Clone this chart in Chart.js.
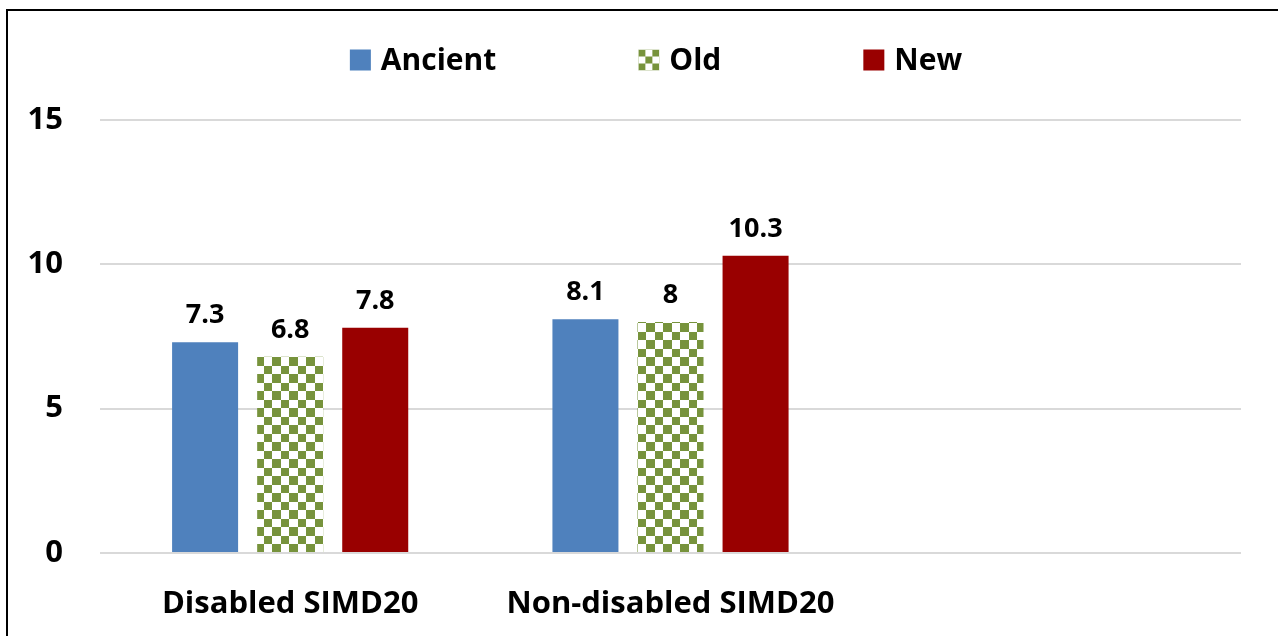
<!DOCTYPE html>
<html><head><meta charset="utf-8">
<script src="https://cdn.jsdelivr.net/npm/chart.js@4"></script>
<style>html,body{margin:0;padding:0;background:#fff;overflow:hidden;} #wrap{width:1278px;height:636px;position:relative;}</style>
</head><body><div id="wrap"><canvas id="c" width="1278" height="636"></canvas></div>
<script>
const categories = ['Disabled SIMD20', 'Non-disabled SIMD20', ''];
const seriesNames = ['Ancient', 'Old', 'New'];
const ancientValues = [7.3, 8.1, null];
const oldValues = [6.8, 8, null];
const newValues = [7.8, 10.3, null];
const yTicks = [0, 5, 10, 15];

const FONT = '"Open Sans"';
const BLUE = '#4F81BD', GREEN = '#77933C', RED = '#990000';

function checker(cell, color) {
  const t = document.createElement('canvas');
  t.width = cell * 2; t.height = cell * 2;
  const g = t.getContext('2d');
  g.fillStyle = '#fff'; g.fillRect(0, 0, t.width, t.height);
  g.fillStyle = color;
  g.fillRect(0, 0, cell, cell);
  g.fillRect(cell, cell, cell, cell);
  return g.createPattern(t, 'repeat');
}
const ctx0 = document.getElementById('c').getContext('2d');
const barPattern = (function(){
  const t = document.createElement('canvas'); t.width = 17; t.height = 17;
  const g = t.getContext('2d');
  g.fillStyle = '#fff'; g.fillRect(0,0,17,17);
  g.fillStyle = GREEN; g.fillRect(0,0,9,9); g.fillRect(9,9,8,8);
  return ctx0.createPattern(t, 'repeat');
})();
const legendPattern = checker(7, GREEN);

const frame = {
  id: 'frame',
  beforeDraw(chart) {
    const c = chart.ctx; c.save();
    c.fillStyle = '#fff'; c.fillRect(0, 0, chart.width, chart.height);
    c.strokeStyle = '#000'; c.lineWidth = 2;
    c.strokeRect(7, 10, 1400, 1000);
    c.restore();
  }
};
const valueLabels = {
  id: 'valueLabels',
  afterDatasetsDraw(chart) {
    const c = chart.ctx; c.save();
    c.font = 'bold 27px ' + FONT; c.fillStyle = '#000';
    c.textAlign = 'center'; c.textBaseline = 'alphabetic';
    chart.data.datasets.forEach((ds, i) => {
      chart.getDatasetMeta(i).data.forEach((bar, j) => {
        const v = ds.data[j];
        if (v == null) return;
        c.fillText(String(v), bar.x, bar.y - 19);
      });
    });
    c.restore();
  }
};
const customLegend = {
  id: 'customLegend',
  afterDraw(chart) {
    const c = chart.ctx; c.save();
    c.font = 'bold 30px ' + FONT;
    const box = 21, gapText = 10, gapItem = 142, cy = 60;
    const fills = [BLUE, legendPattern, RED];
    const widths = seriesNames.map(n => box + gapText + c.measureText(n).width);
    const total = widths.reduce((a, b) => a + b, 0) + gapItem * (widths.length - 1);
    let x = 656 - total / 2;
    c.textBaseline = 'middle'; c.textAlign = 'left'; c.fillStyle = '#000';
    seriesNames.forEach((n, i) => {
      c.fillStyle = fills[i];
      c.save(); c.translate(x, cy - box / 2);
      c.fillRect(0, 0, box, box);
      c.restore();
      c.fillStyle = '#000';
      c.fillText(n, x + box + gapText, cy + 1);
      x += widths[i] + gapItem;
    });
    c.restore();
  }
};

new Chart(document.getElementById('c'), {
  type: 'bar',
  data: {
    labels: categories,
    datasets: [
      { label: seriesNames[0], data: ancientValues, backgroundColor: BLUE },
      { label: seriesNames[1], data: oldValues, backgroundColor: barPattern },
      { label: seriesNames[2], data: newValues, backgroundColor: RED }
    ]
  },
  options: {
    responsive: false,
    animation: false,
    devicePixelRatio: 1,
    categoryPercentage: 0.671,
    barPercentage: 0.776,
    layout: { padding: { top: 120, right: 37, left: 0, bottom: 0 } },
    plugins: { legend: { display: false }, tooltip: { enabled: false } },
    scales: {
      x: {
        grid: { display: false, drawTicks: false },
        border: { display: false },
        ticks: { color: '#000', font: { family: FONT, size: 31, weight: 'bold' }, padding: 33, maxRotation: 0, autoSkip: false },
        afterFit(s) { s.height = 83; }
      },
      y: {
        min: 0, max: 15,
        afterBuildTicks(s) { s.ticks = yTicks.map(v => ({ value: v })); },
        grid: { color: '#D9D9D9', lineWidth: 2, drawTicks: false },
        border: { display: false },
        ticks: { color: '#000', font: { family: FONT, size: 31, weight: 'bold' }, padding: 37 },
        afterFit(s) { s.width = 100; }
      }
    }
  },
  plugins: [frame, valueLabels, customLegend]
});
</script>
</body></html>
